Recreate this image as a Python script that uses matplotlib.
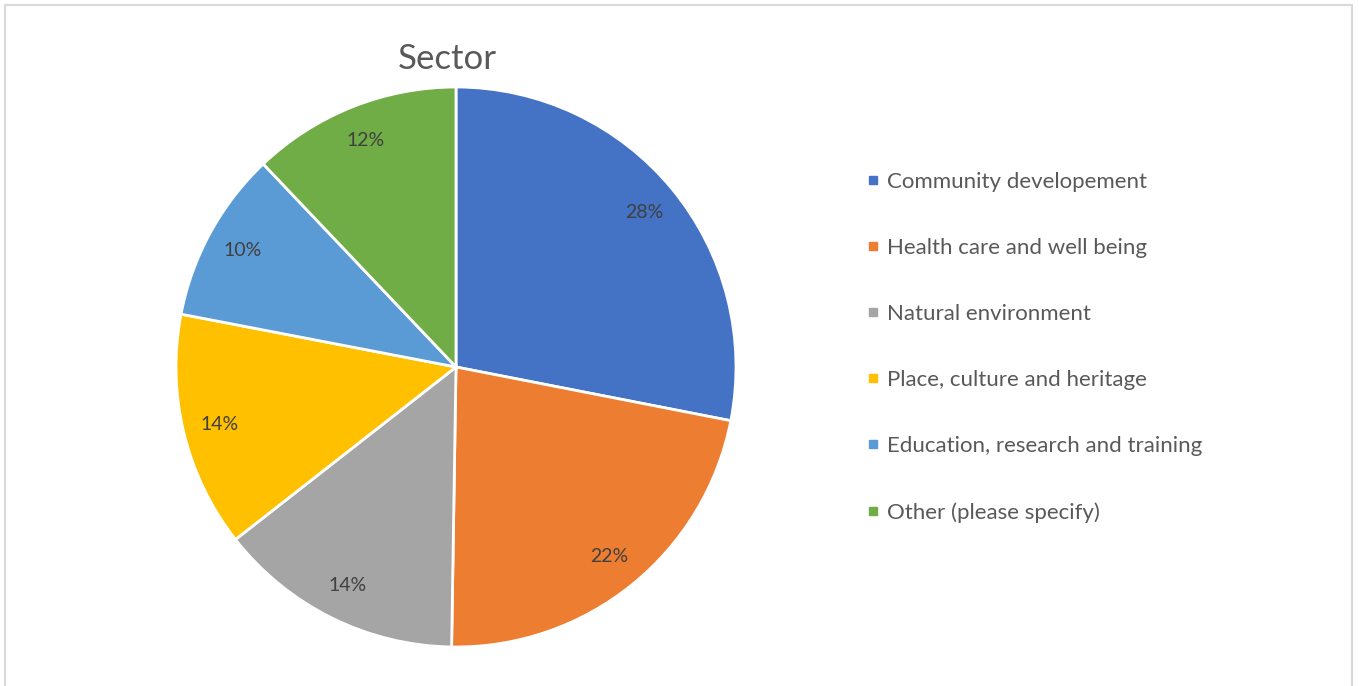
import matplotlib.pyplot as plt
from matplotlib.lines import Line2D
from matplotlib.patches import Rectangle

# data (percent of responses)
sectors = ['Community developement', 'Health care and well being',
           'Natural environment', 'Place, culture and heritage',
           'Education, research and training', 'Other (please specify)']
shares = [28.1, 22.2, 14.2, 13.6, 9.9, 12.1]
colors = ['#4472C4', '#ED7D31', '#A5A5A5', '#FFC000', '#5B9BD5', '#70AD47']

plt.rcParams['font.family'] = ['Lato', 'DejaVu Sans']

W, H = 1359, 686
fig = plt.figure(figsize=(W / 100, H / 100), dpi=100)

# light grey chart border
fig.patches.append(Rectangle((5 / W, -0.01), 1347 / W, 1 - 5 / H + 0.01,
                             transform=fig.transFigure, fill=False,
                             edgecolor='#D9D9D9', linewidth=1.5))

# pie axes: centre (456, 367) px, radius 280 px
ax = fig.add_axes([176 / W, 39 / H, 560 / W, 560 / H])
wedges, texts, autotexts = ax.pie(
    shares, colors=colors, startangle=90, counterclock=False,
    autopct='%1.0f%%', pctdistance=0.87,
    wedgeprops=dict(edgecolor='white', linewidth=2),
    textprops=dict(color='#404040', fontsize=14))
ax.set_xlim(-1, 1)
ax.set_ylim(-1, 1)

fig.text(447 / W, 1 - 59 / H, 'Sector', ha='center', va='center',
         fontsize=25, color='#595959')

handles = [Line2D([], [], marker='s', linestyle='none', markersize=6,
                  markerfacecolor=c, markeredgecolor=c) for c in colors]
leg = fig.legend(handles, sectors, loc='upper left',
                 bbox_to_anchor=(855 / W, 1 - 161 / H), frameon=False,
                 fontsize=16, labelspacing=2.07, handlelength=0.6,
                 handletextpad=0.35, borderpad=0, labelcolor='#595959')

fig.savefig('out.png', dpi=100)
